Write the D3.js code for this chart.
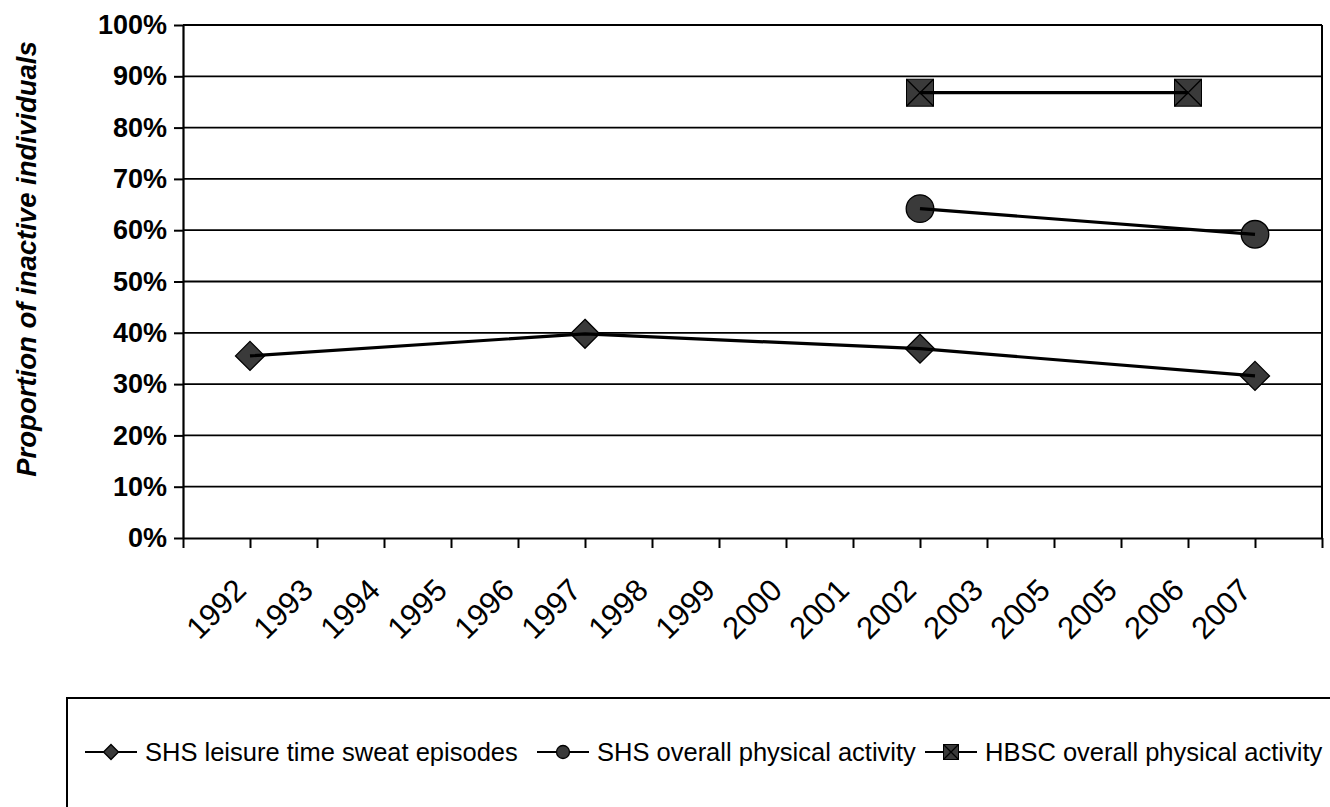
<!DOCTYPE html>
<html>
<head>
<meta charset="utf-8">
<script src="https://cdn.jsdelivr.net/npm/d3@7"></script>
<style>
  body { margin: 0; background: #fff; }
  svg { display: block; font-family: Arial, "Liberation Sans", sans-serif; }
</style>
</head>
<body>
<div id="app"></div>
<script>
// category labels as printed on the axis (2005 really appears twice)
const CATEGORIES = ['1992','1993','1994','1995','1996','1997','1998','1999',
                    '2000','2001','2002','2003','2005','2005','2006','2007'];
const Y_TICKS = [0, 0.1, 0.2, 0.3, 0.4, 0.5, 0.6, 0.7, 0.8, 0.9, 1];

// values per category, null = no survey that year
const SHS_SWEAT   = [0.355, null, null, null, null, 0.398, null, null, null, null, 0.369, null, null, null, null, 0.316];
const SHS_OVERALL = [null, null, null, null, null, null, null, null, null, null, 0.642, null, null, null, null, 0.592];
const HBSC_OVERALL = [null, null, null, null, null, null, null, null, null, null, 0.868, null, null, null, 0.868, null];

const SERIES_NAMES = ['SHS leisure time sweat episodes', 'SHS overall physical activity', 'HBSC overall physical activity'];
const SERIES_SHAPES = ['diamond', 'circle', 'xsquare'];

const W = 1330, H = 807;
const plot = {left: 183, right: 1322, top: 25, bottom: 538};
const FILL = '#3a3a3a';

const svg = d3.select('#app').append('svg')
  .attr('width', W).attr('height', H);

// one slot before the first year, points sit on tick marks
const x = d3.scaleLinear().domain([0, CATEGORIES.length + 1]).range([plot.left, plot.right]);
const y = d3.scaleLinear().domain([0, 1]).range([plot.bottom, plot.top]);

// gridlines
svg.append('g').selectAll('line')
  .data(Y_TICKS.slice(1)).enter()
  .append('line')
  .attr('x1', plot.left).attr('x2', plot.right)
  .attr('y1', d => y(d)).attr('y2', d => y(d))
  .attr('stroke', '#000').attr('stroke-width', 1.8);

// right border of plot area
svg.append('line')
  .attr('x1', plot.right).attr('x2', plot.right)
  .attr('y1', plot.top).attr('y2', plot.bottom)
  .attr('stroke', '#000').attr('stroke-width', 2);

// y axis
const yAxis = svg.append('g')
  .attr('transform', `translate(${plot.left},0)`)
  .call(d3.axisLeft(y).tickValues(Y_TICKS).tickFormat(d3.format('.0%')).tickSize(9).tickPadding(7).tickSizeOuter(0));
yAxis.select('.domain').attr('stroke-width', 2.2);
yAxis.selectAll('.tick line').attr('stroke-width', 2);
yAxis.selectAll('text')
  .attr('font-size', 27).attr('font-weight', 'bold').attr('fill', '#000')
  .attr('font-family', 'Arial, "Liberation Sans", sans-serif');

// x axis
const xAxis = svg.append('g')
  .attr('transform', `translate(0,${plot.bottom})`)
  .call(d3.axisBottom(x).tickValues(d3.range(0, CATEGORIES.length + 2)).tickSize(10).tickSizeOuter(0).tickFormat(''));
xAxis.select('.domain').attr('stroke-width', 2.2);
xAxis.selectAll('.tick line').attr('stroke-width', 2);

svg.append('g').selectAll('text')
  .data(CATEGORIES).enter()
  .append('text')
  .attr('transform', (d, i) => `translate(${x(i + 1) - 2},${plot.bottom + 54}) rotate(-45)`)
  .attr('text-anchor', 'end')
  .attr('font-size', 31)
  .attr('fill', '#000')
  .text(d => d);

// y title
svg.append('text')
  .attr('transform', 'translate(36,259) rotate(-90)')
  .attr('text-anchor', 'middle')
  .attr('font-size', 27.5).attr('font-weight', 'bold').attr('font-style', 'italic')
  .text('Proportion of inactive individuals');

function drawMarker(g, shape, cx, cy, s) {
  if (shape === 'diamond') {
    g.append('path')
      .attr('d', `M${cx},${cy - s}L${cx + s},${cy}L${cx},${cy + s}L${cx - s},${cy}Z`)
      .attr('fill', FILL).attr('stroke', '#000').attr('stroke-width', 1.3);
  } else if (shape === 'circle') {
    g.append('circle').attr('cx', cx).attr('cy', cy).attr('r', s)
      .attr('fill', FILL).attr('stroke', '#000').attr('stroke-width', 1.3);
  } else {
    g.append('rect').attr('x', cx - s).attr('y', cy - s).attr('width', 2 * s).attr('height', 2 * s)
      .attr('fill', FILL).attr('stroke', '#000').attr('stroke-width', 1);
    g.append('path')
      .attr('d', `M${cx - s},${cy - s}L${cx + s},${cy + s}M${cx + s},${cy - s}L${cx - s},${cy + s}`)
      .attr('stroke', '#000').attr('stroke-width', 1.3);
  }
}

const markerSize = {diamond: 14.5, circle: 13.8, xsquare: 13.5};
const line = d3.line().x(d => x(d.i + 1)).y(d => y(d.v));

[SHS_SWEAT, SHS_OVERALL, HBSC_OVERALL].forEach((vals, k) => {
  const pts = vals.map((v, i) => ({i, v})).filter(d => d.v !== null);
  const g = svg.append('g');
  pts.forEach(d => drawMarker(g, SERIES_SHAPES[k], x(d.i + 1), y(d.v), markerSize[SERIES_SHAPES[k]]));
  g.append('path').datum(pts)
    .attr('d', line)
    .attr('fill', 'none').attr('stroke', '#000').attr('stroke-width', 3.2);
});

// legend
svg.append('rect')
  .attr('x', 67).attr('y', 698).attr('width', 1300).attr('height', 140)
  .attr('fill', 'none').attr('stroke', '#000').attr('stroke-width', 2);

const legendX = [85, 537, 925];
const legendY = 752;
SERIES_NAMES.forEach((name, k) => {
  const g = svg.append('g');
  g.append('line')
    .attr('x1', legendX[k]).attr('x2', legendX[k] + 52)
    .attr('y1', legendY).attr('y2', legendY)
    .attr('stroke', '#000').attr('stroke-width', 2);
  const s = SERIES_SHAPES[k] === 'circle' ? 6.5 : 7.5;
  drawMarker(g, SERIES_SHAPES[k], legendX[k] + 26, legendY, s);
  g.append('text')
    .attr('x', legendX[k] + 60).attr('y', legendY + 9)
    .attr('font-size', 25.5).attr('fill', '#000')
    .text(name);
});
</script>
</body>
</html>
